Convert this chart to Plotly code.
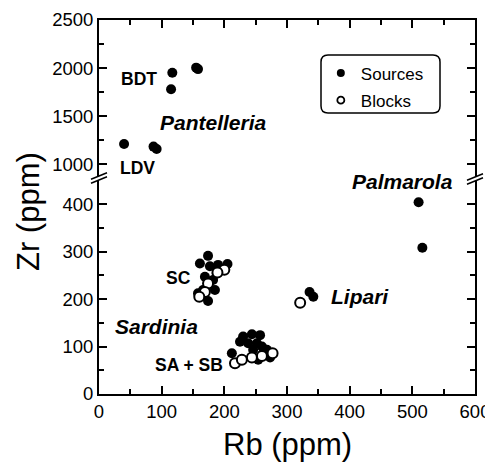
import plotly.graph_objects as go

# ---------------- data ----------------
# Sources on lower (broken) axis: Sardinia SC, SA+SB, Lipari, Palmarola
src_rb = [174, 161, 177, 190, 205, 188, 169, 182, 166, 185, 174, 158,
          230, 244, 257, 225, 238, 252, 260, 246, 262, 268, 212, 254, 273,
          336, 342,
          510, 516]
src_zr = [291, 275, 269, 272, 274, 254, 247, 240, 219, 219, 196, 212,
          121, 126, 124, 110, 107, 107, 100, 93, 86, 93, 86, 72, 77,
          215, 205,
          404, 308]
# Sources on upper axis: Pantelleria (BDT and LDV)
pan_rb = [117, 115, 155, 158, 40, 87, 92]
pan_zr = [1953, 1781, 2005, 1990, 1213, 1185, 1161]
# Blocks (archaeological)
blk_rb = [200, 189, 174, 169, 160,
          217, 228, 244, 260, 277,
          321]
blk_zr = [262, 256, 233, 215, 205,
          65, 72, 77, 80, 86,
          192]

x_ticks = [0, 100, 200, 300, 400, 500, 600]
x_minor = [50, 150, 250, 350, 450, 550]
low_ticks = [0, 100, 200, 300, 400]
low_minor = [50, 150, 250, 350]
up_ticks = [1000, 1500, 2000, 2500]
up_minor = [1250, 1750, 2250]

FONT = "Liberation Sans, Arial, sans-serif"
SPLIT = 0.5775

fig = go.Figure()

fig.add_trace(go.Scatter(x=src_rb, y=src_zr, mode="markers", name="Sources",
                         showlegend=False, xaxis="x", yaxis="y",
                         marker=dict(size=10, color="black", line=dict(width=0))))
fig.add_trace(go.Scatter(x=pan_rb, y=pan_zr, mode="markers", name="Sources",
                         showlegend=False, xaxis="x2", yaxis="y2",
                         marker=dict(size=10, color="black", line=dict(width=0))))
fig.add_trace(go.Scatter(x=blk_rb, y=blk_zr, mode="markers", name="Blocks",
                         showlegend=False, xaxis="x", yaxis="y",
                         marker=dict(size=10, color="white", line=dict(width=2, color="black"))))
# legend entries (smaller symbols, as in the reference legend)
fig.add_trace(go.Scatter(x=[None], y=[None], mode="markers", name="Sources",
                         legendgroup="a", xaxis="x", yaxis="y",
                         marker=dict(size=8, color="black", line=dict(width=0))))
fig.add_trace(go.Scatter(x=[None], y=[None], mode="markers", name="Blocks",
                         legendgroup="b", xaxis="x", yaxis="y",
                         marker=dict(size=7, color="white", line=dict(width=1.8, color="black"))))

axis_common = dict(showgrid=False, zeroline=False, showline=True, linecolor="black",
                   linewidth=2, ticks="inside", ticklen=8, tickwidth=1.5, tickcolor="black",
                   automargin=False,
                   tickfont=dict(family=FONT, size=18.5, color="black"))
minor_common = dict(ticks="inside", ticklen=5, tickwidth=1.5, tickcolor="black")

# page body has an 8px default margin, so the figure is laid out 8px up/left
fig.update_layout(
    width=493, height=466,
    margin=dict(l=91, r=26, t=12, b=80, autoexpand=False),
    paper_bgcolor="white", plot_bgcolor="white",
    showlegend=True,
    xaxis=dict(axis_common, domain=[0, 1], range=[0, 600], anchor="y",
               tickvals=x_ticks, minor=dict(minor_common, tickvals=x_minor)),
    yaxis=dict(axis_common, domain=[0, SPLIT], range=[0, 455], anchor="x",
               tickvals=low_ticks, mirror="ticks",
               minor=dict(minor_common, tickvals=low_minor)),
    xaxis2=dict(axis_common, domain=[0, 1], range=[0, 600], anchor="y2", side="top",
                tickvals=x_ticks, showticklabels=False, matches="x",
                minor=dict(minor_common, tickvals=x_minor)),
    yaxis2=dict(axis_common, domain=[SPLIT, 1], range=[859, 2500], anchor="x2",
                tickvals=up_ticks, mirror="ticks",
                minor=dict(minor_common, tickvals=up_minor)),
    legend=dict(x=0.590, y=0.905, xanchor="left", yanchor="top",
                bgcolor="rgba(0,0,0,0)", borderwidth=0, tracegroupgap=2,
                traceorder="grouped",
                font=dict(family=FONT, size=17, color="black")),
)

W, H = 376.0, 374.0
def px(xp, yp):
    return ((xp - 99) / W, (394 - yp) / H)

shapes = []
# rounded legend box
x0, y1 = px(321, 55)
x1, y0 = px(440, 113)
rx, ry = 7 / W, 7 / H
path = (f"M {x0+rx},{y1} L {x1-rx},{y1} Q {x1},{y1} {x1},{y1-ry} "
        f"L {x1},{y0+ry} Q {x1},{y0} {x1-rx},{y0} L {x0+rx},{y0} "
        f"Q {x0},{y0} {x0},{y0+ry} L {x0},{y1-ry} Q {x0},{y1} {x0+rx},{y1} Z")
shapes.append(dict(type="path", path=path, xref="paper", yref="paper",
                   line=dict(color="black", width=1.5), fillcolor="rgba(0,0,0,0)"))

# axis break marks (left and right)
for cx, cy in [(99, 178), (475, 179)]:
    a1 = px(cx - 8, cy - 2 + 3.2); a2 = px(cx + 8, cy - 2 - 3.2)
    b1 = px(cx - 8, cy + 2 + 3.2); b2 = px(cx + 8, cy + 2 - 3.2)
    w1 = px(cx - 4, cy - 2 + 1.6); w2 = px(cx + 4, cy - 2 - 1.6)
    w3 = px(cx + 4, cy + 2 - 1.6); w4 = px(cx - 4, cy + 2 + 1.6)
    shapes.append(dict(type="path", xref="paper", yref="paper", layer="above",
                       path=f"M {w1[0]},{w1[1]} L {w2[0]},{w2[1]} L {w3[0]},{w3[1]} L {w4[0]},{w4[1]} Z",
                       fillcolor="white", line=dict(width=0)))
    for p1, p2 in [(a1, a2), (b1, b2)]:
        shapes.append(dict(type="line", xref="paper", yref="paper", layer="above",
                           x0=p1[0], y0=p1[1], x1=p2[0], y1=p2[1],
                           line=dict(color="black", width=1.5)))
fig.update_layout(shapes=shapes)

ann = []
def label(text, x, y, yref, size, italic=False):
    t = f"<b><i>{text}</i></b>" if italic else f"<b>{text}</b>"
    ann.append(dict(text=t, x=x, y=y, xref="x", yref=yref, showarrow=False,
                    xanchor="center", yanchor="middle",
                    font=dict(family=FONT, size=size, color="black")))

label("BDT", 64, 1888, "y2", 17.5)
label("Pantelleria", 182, 1436, "y2", 21, True)
label("LDV", 61, 964, "y2", 17.5)
label("Palmarola", 484, 447, "y", 21, True)
label("Lipari", 416, 205, "y", 21, True)
label("SC", 127, 244, "y", 17.5)
label("Sardinia", 92, 142, "y", 21, True)
label("SA + SB", 144, 61, "y", 17.5)

ann.append(dict(text="Zr (ppm)", x=-0.189, y=0.489, xref="paper", yref="paper",
                showarrow=False, textangle=-90, xanchor="center", yanchor="middle",
                font=dict(family=FONT, size=31, color="black")))
ann.append(dict(text="Rb (ppm)", x=0.5, y=-0.136, xref="paper", yref="paper",
                showarrow=False, xanchor="center", yanchor="middle",
                font=dict(family=FONT, size=31, color="black")))
fig.update_layout(annotations=ann)

fig.write_html("out.html")
